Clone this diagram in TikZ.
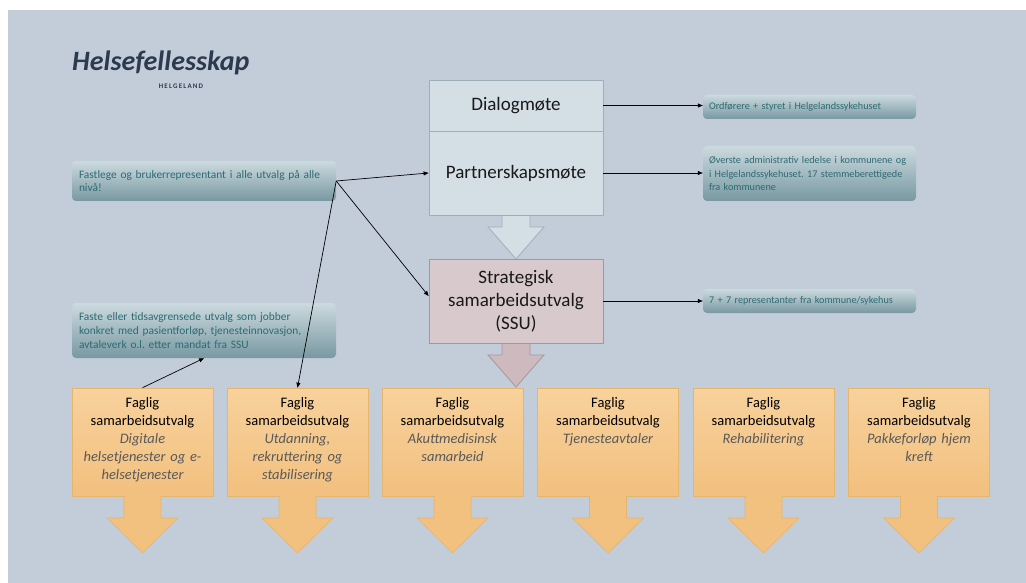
\documentclass[tikz,border=0pt]{standalone}
\usepackage{fontspec}
\setmainfont{Carlito}
\usetikzlibrary{arrows.meta}
\frenchspacing
\definecolor{bg}{HTML}{C3CDD9}
\definecolor{logo}{HTML}{2B3A4E}
\definecolor{topfill}{HTML}{D3DEE5}
\definecolor{topline}{HTML}{9FAFBA}
\definecolor{ssufill}{HTML}{D8C9CD}
\definecolor{ssuline}{HTML}{A4979C}
\definecolor{ssuarrow}{HTML}{CDB9BE}
\definecolor{infotop}{HTML}{CCDADF}
\definecolor{infobot}{HTML}{7898A1}
\definecolor{infotext}{HTML}{2E6A72}
\definecolor{orangetop}{HTML}{F8D19C}
\definecolor{orangebot}{HTML}{F2C07F}
\definecolor{orangeline}{HTML}{E5B56E}
\definecolor{ittext}{HTML}{595959}
\begin{document}
\begin{tikzpicture}[x=1pt,y=-1pt,
  topbox/.style={draw=topline, line width=0.8pt, fill=topfill, font=\fontsize{19}{23}\selectfont, text=black!90, align=center},
  ssubox/.style={draw=ssuline, line width=0.8pt, fill=ssufill, font=\fontsize{19}{23}\selectfont, text=black!90, align=center},
  info/.style={rounded corners=4pt, top color=infotop, bottom color=infobot, text=infotext, font=\fontsize{10.2}{13.5}\selectfont, align=left, inner xsep=6pt},
  fagbox/.style={draw=orangeline, line width=0.6pt, top color=orangetop, bottom color=orangebot, minimum width=141pt, minimum height=108pt},
  fagtext/.style={anchor=north, font=\fontsize{14.5}{17.8}\selectfont, text width=138pt, align=center, inner sep=0pt},
  conn/.style={draw=black, line width=0.7pt, -{Triangle[length=5pt,width=4pt]}},
  orarrow/.style={draw=orangeline, line width=0.6pt, fill=orangebot},
  ]
\useasboundingbox (0,0) rectangle (1026,583);
\fill[white] (0,0) rectangle (1026,583);
\fill[bg] (8,10) rectangle (1026,583);

% logo
\node[anchor=west, inner sep=0pt, font=\fontsize{28}{28}\selectfont\bfseries\itshape, text=logo] (logo) at (72,63) {Helsefellesskap};
\node[inner sep=0pt, font=\fontsize{7}{7}\selectfont\bfseries, text=logo] (logosub) at (181,86) {H\,E\,L\,G\,E\,L\,A\,N\,D};

% block arrows between top boxes
\filldraw[draw=topline, line width=0.8pt, fill=topfill]
  (502,215) -- (502,227) -- (488,227) -- (516,259) -- (544,227) -- (530,227) -- (530,215);
\filldraw[draw=ssuline, line width=0.8pt, fill=ssuarrow]
  (502,343) -- (502,355) -- (488,355) -- (516,387) -- (544,355) -- (530,355) -- (530,343);

% top boxes
\node[topbox, minimum width=174pt, minimum height=51pt] (dialog) at (516,105.5) {Dialogmøte};
\node[topbox, minimum width=174pt, minimum height=84pt] (partner) at (516,173) {Partnerskapsmøte};
\node[ssubox, minimum width=174pt, minimum height=84pt] (ssu) at (516,301) {Strategisk\\samarbeidsutvalg\\(SSU)};

% info boxes right
\node[info, minimum width=213pt, minimum height=24pt, text width=201pt] (info1) at (809.5,107) {Ordførere + styret i Helgelandssykehuset};
\node[info, minimum width=213pt, minimum height=55pt, text width=201pt] (info2) at (809.5,173.5) {Øverste administrativ ledelse i kommunene og\\i Helgelandssykehuset. 17 stemmeberettigede\\fra kommunene};
\node[info, minimum width=213pt, minimum height=24pt, text width=201pt] (info3) at (809.5,301) {7 + 7 representanter fra kommune/sykehus};

% info boxes left
\node[info, font=\fontsize{11.4}{13}\selectfont, minimum width=264pt, minimum height=40pt, text width=250pt] (fast) at (204,181) {Fastlege og brukerrepresentant i alle utvalg på alle\\nivå!};
\node[info, font=\fontsize{11.4}{14}\selectfont, minimum width=264pt, minimum height=55pt, text width=250pt] (faste) at (204,330.5) {Faste eller tidsavgrensede utvalg som jobber\\konkret med pasientforløp, tjenesteinnovasjon,\\avtaleverk o.l. etter mandat fra SSU};

% orange boxes and arrows
\foreach \i/\x/\t in {1/142.5/{Digitale\\helsetjenester og e-\\helsetjenester},
                      2/297.5/{Utdanning,\\rekruttering og\\stabilisering},
                      3/452.5/{Akuttmedisinsk\\samarbeid},
                      4/608/{Tjenesteavtaler},
                      5/763.5/{Rehabilitering},
                      6/919/{Pakkeforløp hjem\\kreft}}{
  \filldraw[orarrow] (\x-18.5,495) -- (\x-18.5,518) -- (\x-35.5,518) -- (\x,553) -- (\x+35.5,518) -- (\x+18.5,518) -- (\x+18.5,495);
  \node[fagbox] (f\i) at (\x,442) {};
  \node[fagtext] (ft\i) at ([yshift=-10pt]f\i.north) {Faglig\\samarbeidsutvalg\\{\itshape\color{ittext}\t}};
  \fill[orangebot] (\x-18,494.2) rectangle (\x+18,497);
}

% connectors
\draw[conn] (dialog.east) -- (dialog.east -| info1.west);
\draw[conn] (partner.east) -- (partner.east -| info2.west);
\draw[conn] (ssu.east) -- (ssu.east -| info3.west);
\draw[conn] (fast.east) -- (partner.west);
\draw[conn] (fast.east) -- ([yshift=5pt]ssu.west);
\draw[conn] (fast.east) -- (f2.north);
\draw[conn] (f1.north) -- (faste.south);
\end{tikzpicture}
\end{document}
